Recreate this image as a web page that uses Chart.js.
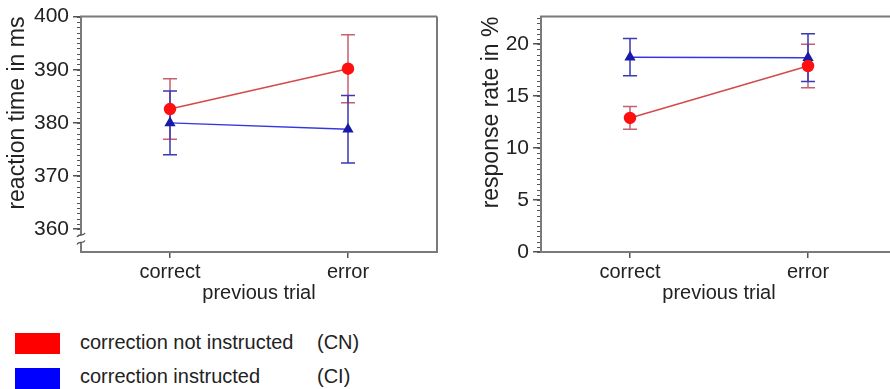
<!DOCTYPE html>
<html>
<head>
<meta charset="utf-8">
<script src="https://cdn.jsdelivr.net/npm/chart.js@4"></script>
<style>
  html, body { margin:0; padding:0; background:#fff; }
  body { width:890px; height:389px; overflow:hidden; position:relative; font-family:"Liberation Sans", Arial, sans-serif; }
  .box { position:absolute; top:0; height:310px; width:445px; }
  #leftBox { left:0; }
  #rightBox { left:460px; }
  .leg { position:absolute; left:0; height:24px; font-size:20px; color:#222; }
  .sw { position:absolute; left:15px; width:45px; height:21px; }
  .lt { position:absolute; left:80px; top:-2px; white-space:nowrap; }
  .ab { position:absolute; left:317px; top:-2px; white-space:nowrap; }
</style>
</head>
<body>
<div class="box" id="leftBox"><canvas id="c1"></canvas></div>
<div class="box" id="rightBox"><canvas id="c2"></canvas></div>
<div class="leg" style="top:333px;"><div class="sw" style="background:#ff0000;"></div><span class="lt" id="l1"></span><span class="ab" id="a1"></span></div>
<div class="leg" style="top:367px;"><div class="sw" style="background:#0000ff;top:1px;"></div><span class="lt" id="l2"></span><span class="ab" id="a2"></span></div>
<script>
// ---- data ----
const categories = ['correct', 'error'];
const seriesNames = ['correction not instructed', 'correction instructed'];
const seriesAbbr = ['(CN)', '(CI)'];

const rtCN = [382.6, 390.2];
const rtCNerr = [5.7, 6.4];
const rtCI = [380.0, 378.8];
const rtCIerr = [6.0, 6.35];

const rrCN = [12.9, 17.9];
const rrCNerr = [1.1, 2.1];
const rrCI = [18.75, 18.7];
const rrCIerr = [1.8, 2.3];

const rtTicks = [360, 370, 380, 390, 400];
const rrTicks = [0, 5, 10, 15, 20];

document.getElementById('l1').textContent = seriesNames[0];
document.getElementById('l2').textContent = seriesNames[1];
document.getElementById('a1').textContent = seriesAbbr[0];
document.getElementById('a2').textContent = seriesAbbr[1];

const FONT = "'Liberation Sans', Arial, sans-serif";
const redLine = '#d24a4a', redPt = '#ff1010', redErr = '#c8606e';
const blueLine = '#3636e0', bluePt = '#1a1aa8', blueErr = '#3a3ab4';

function pts(vals) { return vals.map((v, i) => ({ x: i + 1, y: v })); }

const errPlugin = {
  id: 'errbars',
  beforeDatasetsDraw(chart) {
    const ctx = chart.ctx, xs = chart.scales.x, ys = chart.scales.y;
    chart.data.datasets.forEach(ds => {
      ctx.save();
      ctx.strokeStyle = ds.errColor; ctx.lineWidth = 1.5;
      ds.data.forEach((p, i) => {
        const e = ds.err[i];
        const x = xs.getPixelForValue(p.x);
        const y1 = ys.getPixelForValue(p.y + e), y2 = ys.getPixelForValue(p.y - e);
        ctx.beginPath();
        ctx.moveTo(x, y1); ctx.lineTo(x, y2);
        ctx.moveTo(x - 7, y1); ctx.lineTo(x + 7, y1);
        ctx.moveTo(x - 7, y2); ctx.lineTo(x + 7, y2);
        ctx.stroke();
      });
      ctx.restore();
    });
  }
};

const framePlugin = {
  id: 'frame',
  afterDraw(chart, args, opts) {
    const ctx = chart.ctx, a = chart.chartArea, ys = chart.scales.y;
    ctx.save();
    // minor ticks
    ctx.strokeStyle = '#555'; ctx.lineWidth = 1;
    for (let v = opts.minorFrom; v <= ys.max + 1e-9; v += opts.minorStep) {
      const y = Math.round(ys.getPixelForValue(v)) + 0.5;
      ctx.beginPath(); ctx.moveTo(a.left - 4, y); ctx.lineTo(a.left, y); ctx.stroke();
    }
    // frame
    ctx.strokeStyle = '#7a7a7a'; ctx.lineWidth = 2;
    ctx.beginPath();
    ctx.moveTo(a.right, a.top); ctx.lineTo(a.left, a.top); ctx.lineTo(a.left, a.bottom); ctx.lineTo(a.right, a.bottom);
    if (opts.rightEdge) ctx.lineTo(a.right, a.top);
    ctx.stroke();
    // axis break
    if (opts.breakAt != null) {
      const yb1 = ys.getPixelForValue(opts.breakAt + 0.9);
      const yb2 = ys.getPixelForValue(opts.breakAt - 0.5);
      ctx.fillStyle = '#fff';
      ctx.fillRect(a.left - 3, yb1, 6, yb2 - yb1);
      ctx.strokeStyle = '#555'; ctx.lineWidth = 1.3;
      [yb1, yb2].forEach(y => {
        ctx.beginPath();
        ctx.moveTo(a.left - 4, y + 2);
        ctx.bezierCurveTo(a.left - 2, y - 2, a.left + 2, y + 2, a.left + 4, y - 2);
        ctx.stroke();
      });
    }
    ctx.restore();
  }
};

function makeChart(id, dataCN, errCN, dataCI, errCI, yMin, yMax, yTicks, yTitle, frameOpts, titlePad) {
  return new Chart(document.getElementById(id), {
    type: 'line',
    data: {
      datasets: [
        { data: pts(dataCN), err: errCN, errColor: redErr, borderColor: redLine, borderWidth: 1.5,
          pointStyle: 'circle', pointRadius: 5.5, pointBackgroundColor: redPt, pointBorderColor: redPt, tension: 0 },
        { data: pts(dataCI), err: errCI, errColor: blueErr, borderColor: blueLine, borderWidth: 1.5,
          pointStyle: 'triangle', pointRadius: 5, pointBackgroundColor: bluePt, pointBorderColor: bluePt, tension: 0 }
      ]
    },
    options: {
      responsive: true, maintainAspectRatio: false, animation: false,
      layout: { padding: { top: 16, right: 8, left: 0, bottom: 0 } },
      plugins: { legend: { display: false }, tooltip: { enabled: false }, frame: frameOpts },
      scales: {
        x: {
          type: 'linear', min: 0.5, max: 2.5,
          afterBuildTicks: s => { s.ticks = categories.map((c, i) => ({ value: i + 1 })); },
          afterFit: s => { s.height = 58; },
          ticks: { callback: v => categories[v - 1], font: { family: FONT, size: 20 }, color: '#222', padding: 2, maxRotation: 0 },
          grid: { drawOnChartArea: false, drawTicks: true, tickLength: 6, color: '#555', lineWidth: 1.5 },
          border: { display: false },
          title: { display: true, text: 'previous trial', font: { family: FONT, size: 20 }, color: '#222', padding: { top: 0, bottom: 5 } }
        },
        y: {
          type: 'linear', min: yMin, max: yMax,
          afterBuildTicks: s => { s.ticks = yTicks.map(v => ({ value: v })); },
          afterFit: s => { s.width = 81; },
          ticks: { font: { family: FONT, size: 21 }, color: '#222', padding: 4 },
          grid: { drawOnChartArea: false, drawTicks: true, tickLength: 8, color: '#555', lineWidth: 1.5 },
          border: { display: false },
          title: { display: true, text: yTitle, align: 'end', font: { family: FONT, size: 23 }, color: '#222', padding: { top: titlePad, bottom: 0 } }
        }
      }
    },
    plugins: [errPlugin, framePlugin]
  });
}

makeChart('c1', rtCN, rtCNerr, rtCI, rtCIerr, 355.7, 400, rtTicks, 'reaction time in ms',
  { minorFrom: 360, minorStep: 1, rightEdge: true, breakAt: 358 }, 4);
makeChart('c2', rrCN, rrCNerr, rrCI, rrCIerr, 0, 22.65, rrTicks, 'response rate in %',
  { minorFrom: 0, minorStep: 0.5, rightEdge: false, breakAt: null }, 18);
</script>
</body>
</html>
